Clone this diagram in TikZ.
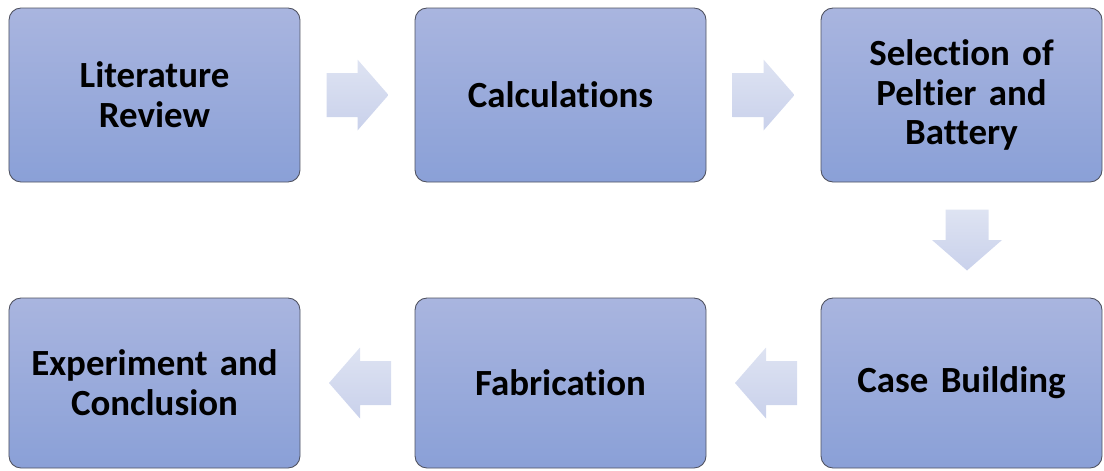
\documentclass[tikz,border=0pt]{standalone}
\usepackage{fontspec}
\setmainfont{Carlito}[Ligatures=NoCommon]
\usepackage{tikz}
\usetikzlibrary{calc}

\definecolor{boxtop}{HTML}{A9B5DF}
\definecolor{boxbot}{HTML}{8AA0D7}
\definecolor{arrtop}{HTML}{DEE3F2}
\definecolor{arrbot}{HTML}{C9D1EB}
\definecolor{boxline}{HTML}{4F5260}

\begin{document}
\begin{tikzpicture}[
    stage/.style={rectangle, rounded corners=0.24cm, draw=boxline, line width=0.5pt,
        top color=boxtop, bottom color=boxbot, minimum width=5.82cm, minimum height=3.48cm,
        text width=5.5cm, align=center, inner sep=0pt,
        font=\fontsize{21}{22.7}\selectfont\bfseries},
    flow/.style={top color=arrtop, bottom color=arrbot, draw=none}]
            \useasboundingbox (0,0) rectangle (22.08,9.4);
            \node[stage] (Lit) at (3.09,7.5) {Literature\\Review};
            \node[stage] (Calc) at (11.21,7.5) {Calculations};
            \node[stage, minimum width=5.62cm] (Sel) at (19.23,7.5) {Selection of\\Peltier and\\Battery};
            \node[stage, minimum height=3.4cm] (Exp) at (3.09,1.74) {Experiment and\\Conclusion};
            \node[stage, minimum height=3.4cm] (Fab) at (11.21,1.74) {Fabrication};
            \node[stage, minimum height=3.4cm, minimum width=5.62cm] (Case) at (19.23,1.74) {Case Building};
            \coordinate (Arr0) at ($(Lit.east)!0.5!(Calc.west)$);
            \coordinate (Arr1) at ($(Calc.east)!0.5!(Sel.west)$);
            \coordinate (Arr2) at ([xshift=0.11cm]$(Sel.south)!0.5!(Case.north)$);
            \coordinate (Arr3) at ([xshift=0.05cm]$(Case.west)!0.5!(Fab.east)$);
            \coordinate (Arr4) at ([xshift=0.05cm]$(Fab.west)!0.5!(Exp.east)$);
            \shade[flow] (Arr0) ++(-0.62,0.44) -- ++(0.62,0) -- ++(0,0.27) -- ++(0.62,-0.71) -- ++(-0.62,-0.71) -- ++(0,0.27) -- ++(-0.62,0) -- cycle;
            \shade[flow] (Arr1) ++(-0.62,0.44) -- ++(0.62,0) -- ++(0,0.27) -- ++(0.62,-0.71) -- ++(-0.62,-0.71) -- ++(0,0.27) -- ++(-0.62,0) -- cycle;
            \shade[flow] (Arr2) ++(-0.43,0.61) -- ++(0.86,0) -- ++(0,-0.61) -- ++(0.27,0) -- ++(-0.70,-0.61) -- ++(-0.70,0.61) -- ++(0.27,0) -- cycle;
            \shade[flow] (Arr3) ++(0.62,0.44) -- ++(-0.62,0) -- ++(0,0.27) -- ++(-0.62,-0.71) -- ++(0.62,-0.71) -- ++(0,0.27) -- ++(0.62,0) -- cycle;
            \shade[flow] (Arr4) ++(0.62,0.44) -- ++(-0.62,0) -- ++(0,0.27) -- ++(-0.62,-0.71) -- ++(0.62,-0.71) -- ++(0,0.27) -- ++(0.62,0) -- cycle;
        \end{tikzpicture}
\end{document}
